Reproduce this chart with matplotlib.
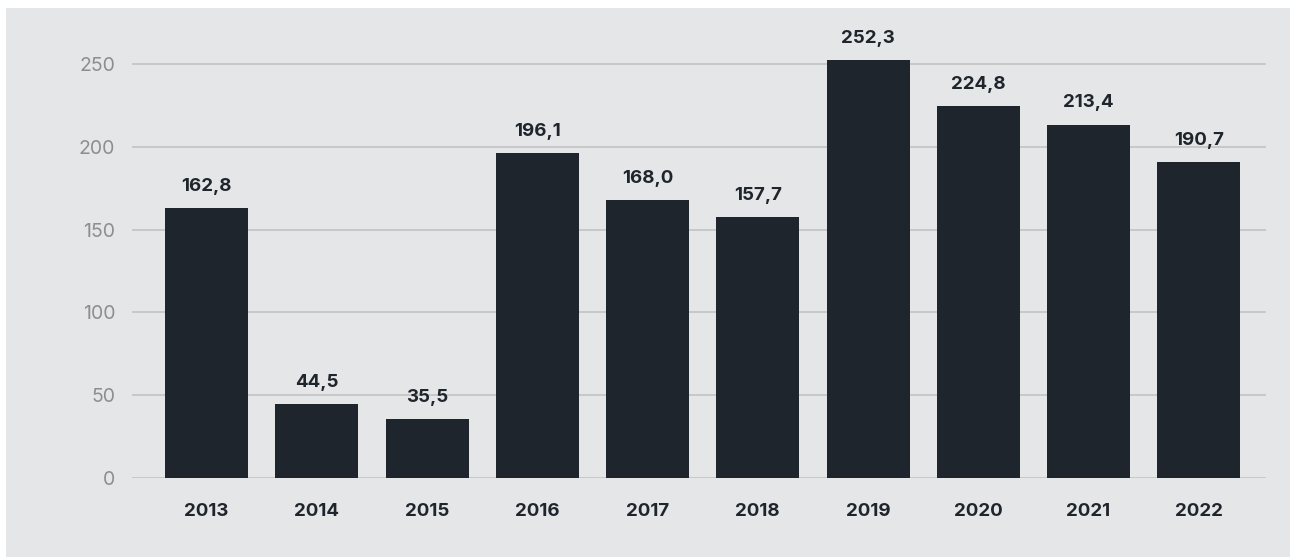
import matplotlib.pyplot as plt
from matplotlib.patches import Rectangle
import numpy as np

years = ["2013", "2014", "2015", "2016", "2017", "2018", "2019", "2020", "2021", "2022"]
values = [162.8, 44.5, 35.5, 196.1, 168.0, 157.7, 252.3, 224.8, 213.4, 190.7]
yticks = [0, 50, 100, 150, 200, 250]

bg = "#e5e6e8"
bar_color = "#1f252c"

plt.rcParams["font.family"] = ["Inter", "DejaVu Sans"]

W, H = 1290, 557
fig = plt.figure(figsize=(W / 100, H / 100), dpi=100)
fig.patch.set_facecolor("white")
fig.patches.append(Rectangle((6 / W, -0.1), 1.2, 1.1 - 8 / H, transform=fig.transFigure,
                             facecolor=bg, edgecolor="none", zorder=-10))

ymax = 270
px_per_unit = 414 / 250
top_px = 478 - ymax * px_per_unit
ax = fig.add_axes([132 / W, 1 - 478 / H, (1266 - 132) / W, (478 - top_px) / H])
ax.set_facecolor("none")

x = np.arange(len(years))
ax.bar(x, values, width=0.753, color=bar_color, zorder=3)
ax.set_xlim(-0.676, 9.61)
ax.set_ylim(0, ymax)

for xi, v in zip(x, values):
    ax.annotate(f"{v:.1f}".replace(".", ","), (xi, v), xytext=(0, 9.5),
                textcoords="offset points", ha="center", va="bottom",
                fontsize=13.5, fontweight="bold", color=bar_color)

ax.set_yticks(yticks)
ax.set_yticklabels([str(t) for t in yticks], fontsize=14, color="#8e8e8e")
ax.set_xticks(x)
ax.set_xticklabels(years, fontsize=13.5, fontweight="bold", color=bar_color)
ax.tick_params(axis="both", length=0)
ax.tick_params(axis="y", pad=12)
ax.tick_params(axis="x", pad=18)
ax.grid(axis="y", color="#c4c5c7", linewidth=1.3, zorder=0)
for s in ax.spines.values():
    s.set_visible(False)

fig.savefig("out.png", dpi=100)
